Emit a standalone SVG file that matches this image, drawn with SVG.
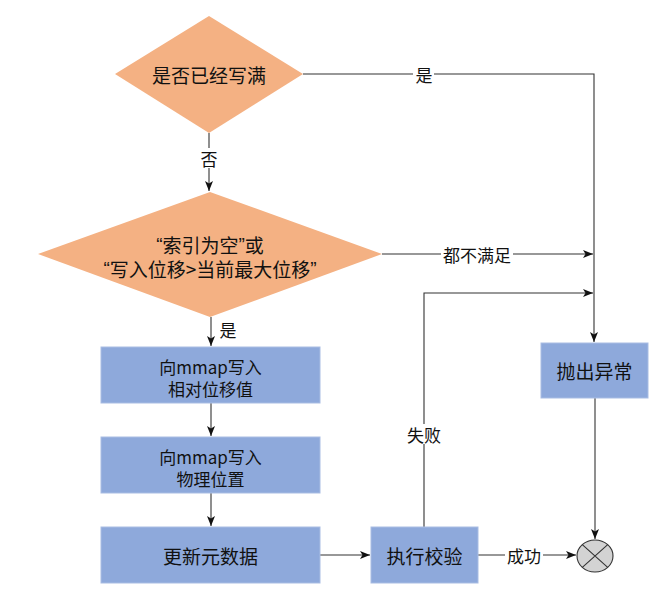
<svg xmlns="http://www.w3.org/2000/svg" width="662" height="595" viewBox="0 0 662 595">
<style>
text{font-family:"Noto Sans CJK SC","Noto Sans",sans-serif;fill:#111;text-anchor:middle;dominant-baseline:central}
.q{font-family:"Liberation Sans","Noto Sans",sans-serif}
.dia{fill:#F4B183;stroke:none}
.box{fill:#8EA9DB;stroke:#a9bde3;stroke-width:1}
.big{font-size:19px}
.mid{font-size:17px}
.lbl{font-size:17px}
.ln{fill:none;stroke:#333;stroke-width:1.1}
.bg{fill:#fff}
</style>
<defs>
<marker id="ah" viewBox="0 0 10 10" refX="10" refY="5" markerWidth="10" markerHeight="10" markerUnits="userSpaceOnUse" orient="auto">
<path d="M0,1 L10,5 L0,9 L2.5,5 Z" fill="#111"/>
</marker>
</defs>
<g id="connectors">
<path class="ln" d="M303,74 H594 V342" marker-end="url(#ah)"/>
<path class="ln" d="M209,133 V191" marker-end="url(#ah)"/>
<path class="ln" d="M382,254 H593" marker-end="url(#ah)"/>
<path class="ln" d="M211,317 V346" marker-end="url(#ah)"/>
<path class="ln" d="M211,403 V436" marker-end="url(#ah)"/>
<path class="ln" d="M211,493 V526" marker-end="url(#ah)"/>
<path class="ln" d="M320,555 H370" marker-end="url(#ah)"/>
<path class="ln" d="M424,527 V293 H593" marker-end="url(#ah)"/>
<path class="ln" d="M478,555 H576" marker-end="url(#ah)"/>
<path class="ln" d="M595,398 V539" marker-end="url(#ah)"/>
<rect class="bg" x="413" y="64" width="21" height="20"/>
<text class="lbl" x="424" y="74">是</text>
<rect class="bg" x="199" y="148" width="21" height="20"/>
<text class="lbl" x="209" y="158">否</text>
<rect class="bg" x="441" y="244" width="72" height="20"/>
<text class="lbl" x="477" y="254">都不满足</text>
<text class="lbl" x="228" y="329">是</text>
<rect class="bg" x="405" y="424" width="38" height="20"/>
<text class="lbl" x="424" y="434">失败</text>
<rect class="bg" x="505" y="545" width="38" height="20"/>
<text class="lbl" x="524" y="555">成功</text>
</g>
<g id="check-full">
<polygon class="dia" points="209,16 303,74 209,133 115,74"/>
<text class="big" x="209" y="74">是否已经写满</text>
</g>
<g id="check-index">
<polygon class="dia" points="210,192 382,254 210,317 38,254"/>
<text class="big" x="210" y="244"><tspan class="q">“</tspan>索引为空<tspan class="q">”</tspan>或</text>
<text class="big" x="210" y="268"><tspan class="q">“</tspan>写入位移&gt;当前最大位移<tspan class="q">”</tspan></text>
</g>
<g id="write-offset">
<rect class="box" x="101" y="347" width="219" height="56"/>
<text class="mid" x="210.5" y="366">向mmap写入</text>
<text class="mid" x="210.5" y="388">相对位移值</text>
</g>
<g id="write-position">
<rect class="box" x="101" y="437" width="219" height="56"/>
<text class="mid" x="210.5" y="456">向mmap写入</text>
<text class="mid" x="210.5" y="478">物理位置</text>
</g>
<g id="update-meta">
<rect class="box" x="101" y="527" width="219" height="56"/>
<text class="big" x="210.5" y="555">更新元数据</text>
</g>
<g id="verify">
<rect class="box" x="371" y="527" width="107" height="56"/>
<text class="big" x="424.5" y="555">执行校验</text>
</g>
<g id="throw">
<rect class="box" x="541" y="343" width="107" height="55"/>
<text class="big" x="594.5" y="370">抛出异常</text>
</g>
<g id="end">
<ellipse cx="595" cy="556" rx="18" ry="16" fill="#d3d3d3" stroke="#333" stroke-width="1.1"/>
<path d="M582.3,544.7 L607.7,567.3 M607.7,544.7 L582.3,567.3" stroke="#333" stroke-width="1.1"/>
</g>
</svg>
